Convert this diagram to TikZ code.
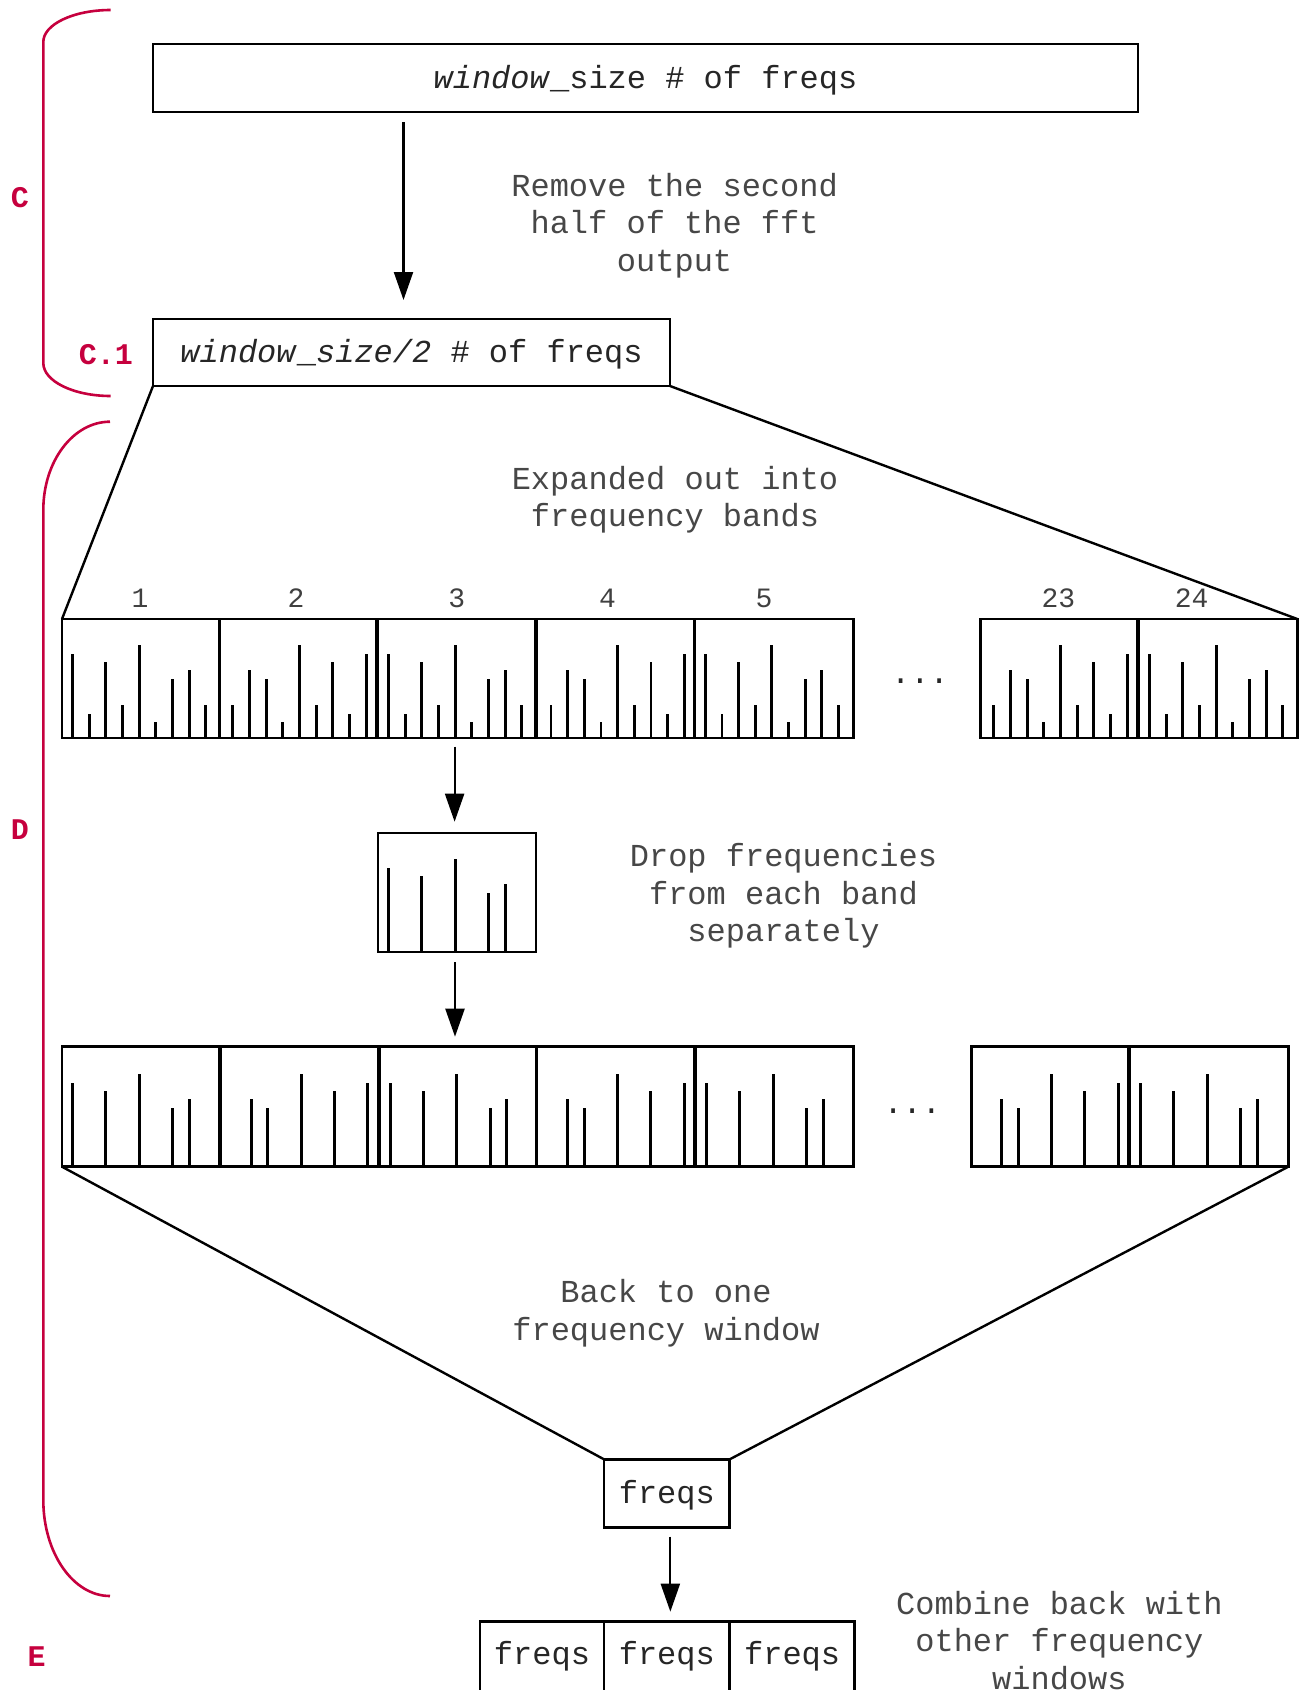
\documentclass[tikz,border=0pt]{standalone}
\usepackage{fontspec}
\setmainfont{Liberation Mono}
\usetikzlibrary{arrows.meta}
\definecolor{brc}{RGB}{198,0,62}
\tikzset{
  boxline/.style={draw, line width=2.9pt, outer sep=0pt, inner sep=0pt},
  barline/.style={line width=2.9pt},
  conn/.style={line width=2.4pt},
  arr/.style={line width=2.2pt, -{Triangle[length=28pt,width=19pt]}},
  desc/.style={align=center, font=\fontsize{32}{37.7}\selectfont, text=black!72, inner sep=0pt},
  boxtext/.style={font=\fontsize{32}{38}\selectfont, text=black!85},
  num/.style={font=\fontsize{28}{32}\selectfont, inner sep=0pt, text=black!75},
  lab/.style={font=\bfseries\fontsize{30}{34}\selectfont, text=brc, inner sep=0pt},
  brace/.style={draw=brc, line width=2.6pt},
}
\def\fullA{10.5/84,27.2/24,43.8/76,60.5/33,77.1/93,93.8/16,110.5/59,127.1/68,143.8/33}
\def\keptA{10.5/84,43.8/76,77.1/93,110.5/59,127.1/68}
% #1 name, #2 left, #3 right, #4 top, #5 bottom, #6 origin x, #7 direction, #8 bar list
\newcommand\mkband[8]{%
  \node[boxline, anchor=north west, minimum width=#3pt-#2pt, minimum height=#5pt-#4pt] (#1) at (#2,#4) {};
  \foreach \p/\h in #8 {\draw[barline] ({#6+(#7)*\p},#5) -- ({#6+(#7)*\p},{#5-\h});}
}
\begin{document}
\begin{tikzpicture}[x=1pt,y=-1pt]
\fill[white] (0,0) rectangle (1304,1690);
\useasboundingbox (0,0) rectangle (1304,1690);

% braces and section labels
\draw[brace] (110.7,10) .. controls (73.5,10) and (43.3,24.3) .. (43.3,42)
  -- (43.3,363) .. controls (43.3,381.2) and (73.5,396) .. (110.7,396);
\draw[brace] (110,421.7) .. controls (73.2,421.7) and (43.3,461.2) .. (43.3,510)
  -- (43.3,1500) .. controls (43.3,1553) and (73.2,1596) .. (110,1596);
\node[lab] (labC) at (20,198) {C};
\node[lab] (labC1) at (106,355) {C.1};
\node[lab] (labD) at (20,830) {D};
\node[lab] (labE) at (36.7,1656.7) {E};

% top boxes
\node[boxline, anchor=north west, minimum width=985pt, minimum height=68pt] (top) at (153,44) {};
\node[boxtext, inner sep=0pt] (toptext) at ([yshift=-2pt]top.center) {\textit{window}\_size \# of freqs};
\node[boxline, anchor=north west, minimum width=517pt, minimum height=67pt] (c1) at (153,319) {};
\node[boxtext, inner sep=0pt] (c1text) at ([yshift=-2pt]c1.center) {\textit{window}\_\textit{size/2} \# of freqs};
\draw[arr, shorten <=10pt, shorten >=19pt] ([xshift=-8pt]top.south -| c1.north) -- ([xshift=-8pt]c1.north);
\node[desc] (t1) at (674.6,225.5) {Remove the second\\half of the fft\\output};

% row 1 : frequency bands
\mkband{r1b1}{62}{219.4}{619}{738}{62}{1}{\fullA}
\mkband{r1b2}{219.4}{376.6}{619}{738}{376.6}{-1}{\fullA}
\mkband{r1b3}{378}{535.2}{619}{738}{378}{1}{\fullA}
\mkband{r1b4}{536.6}{694.8}{619}{738}{694.8}{-1}{\fullA}
\mkband{r1b5}{694.8}{853.3}{619}{738}{694.8}{1}{\fullA}
\mkband{r1b23}{980.7}{1137.6}{619}{738}{1137.6}{-1}{\fullA}
\mkband{r1b24}{1139}{1297.3}{619}{738}{1139}{1}{\fullA}
\node[num] (n1) at (140,598) {1};
\node[num] (n2) at (296,598) {2};
\node[num] (n3) at (456.8,598) {3};
\node[num] (n4) at (607.5,598) {4};
\node[num] (n5) at (764,598) {5};
\node[num] (n23) at (1058.3,598) {23};
\node[num] (n24) at (1191.7,598) {24};
\node[boxtext, anchor=base, inner sep=0pt] (dots1) at (920,683) {...};
\draw[conn] (c1.south west) -- (r1b1.north west);
\draw[conn] (c1.south east) -- (r1b24.north east);
\node[desc] (t2) at (675,499.7) {Expanded out into\\frequency bands};

% single band
\mkband{single}{378}{536}{833}{952}{378}{1}{\keptA}
\draw[arr, shorten <=8.7pt, shorten >=11.3pt] ([xshift=-2pt]r1b3.south) -- ([xshift=-2pt]r1b3.south |- single.north);
\node[desc] (t3) at (783.5,895.8) {Drop frequencies\\from each band\\separately};

% row 2 : reduced bands
\mkband{r2b1}{62}{219.6}{1046.7}{1166.7}{62}{1}{\keptA}
\mkband{r2b2}{221}{378.2}{1046.7}{1166.7}{378.2}{-1}{\keptA}
\mkband{r2b3}{379.6}{536.9}{1046.7}{1166.7}{379.6}{1}{\keptA}
\mkband{r2b4}{536.9}{694.6}{1046.7}{1166.7}{694.6}{-1}{\keptA}
\mkband{r2b5}{696}{853.3}{1046.7}{1166.7}{696}{1}{\keptA}
\mkband{r2b23}{971.7}{1128.6}{1046.7}{1166.7}{1128.6}{-1}{\keptA}
\mkband{r2b24}{1130}{1288.3}{1046.7}{1166.7}{1130}{1}{\keptA}
\node[boxtext, anchor=base, inner sep=0pt] (dots2) at (912.3,1113) {...};
\draw[arr, shorten <=10pt, shorten >=10pt] ([xshift=-2pt]single.south) -- ([xshift=-2pt]single.south |- r2b3.north);

% back to one window
\node[boxline, anchor=north west, minimum width=125.7pt, minimum height=68pt] (fq) at (604,1459.3) {};
\node[boxtext, inner sep=0pt] (fqtext) at ([yshift=-2pt]fq.center) {freqs};
\draw[conn] (r2b1.south west) -- (fq.north west);
\draw[conn] (r2b24.south east) -- (fq.north east);
\node[desc] (t4) at (666,1313.5) {Back to one\\frequency window};

% combined windows
\node[boxline, boxtext, anchor=north west, minimum width=124pt, minimum height=70pt] (e1) at (480,1621.7) {freqs};
\node[boxline, boxtext, anchor=north west, minimum width=125.7pt, minimum height=70pt] (e2) at (604,1621.7) {freqs};
\node[boxline, boxtext, anchor=north west, minimum width=124.8pt, minimum height=70pt] (e3) at (729.7,1621.7) {freqs};
\draw[arr, shorten <=9.4pt, shorten >=10pt] ([xshift=3.5pt]fq.south) -- ([xshift=3.5pt]e2.north);
\node[desc] (t5) at (1059.4,1640.3) {Combine back with\\other frequency\\windows};
\end{tikzpicture}
\end{document}
